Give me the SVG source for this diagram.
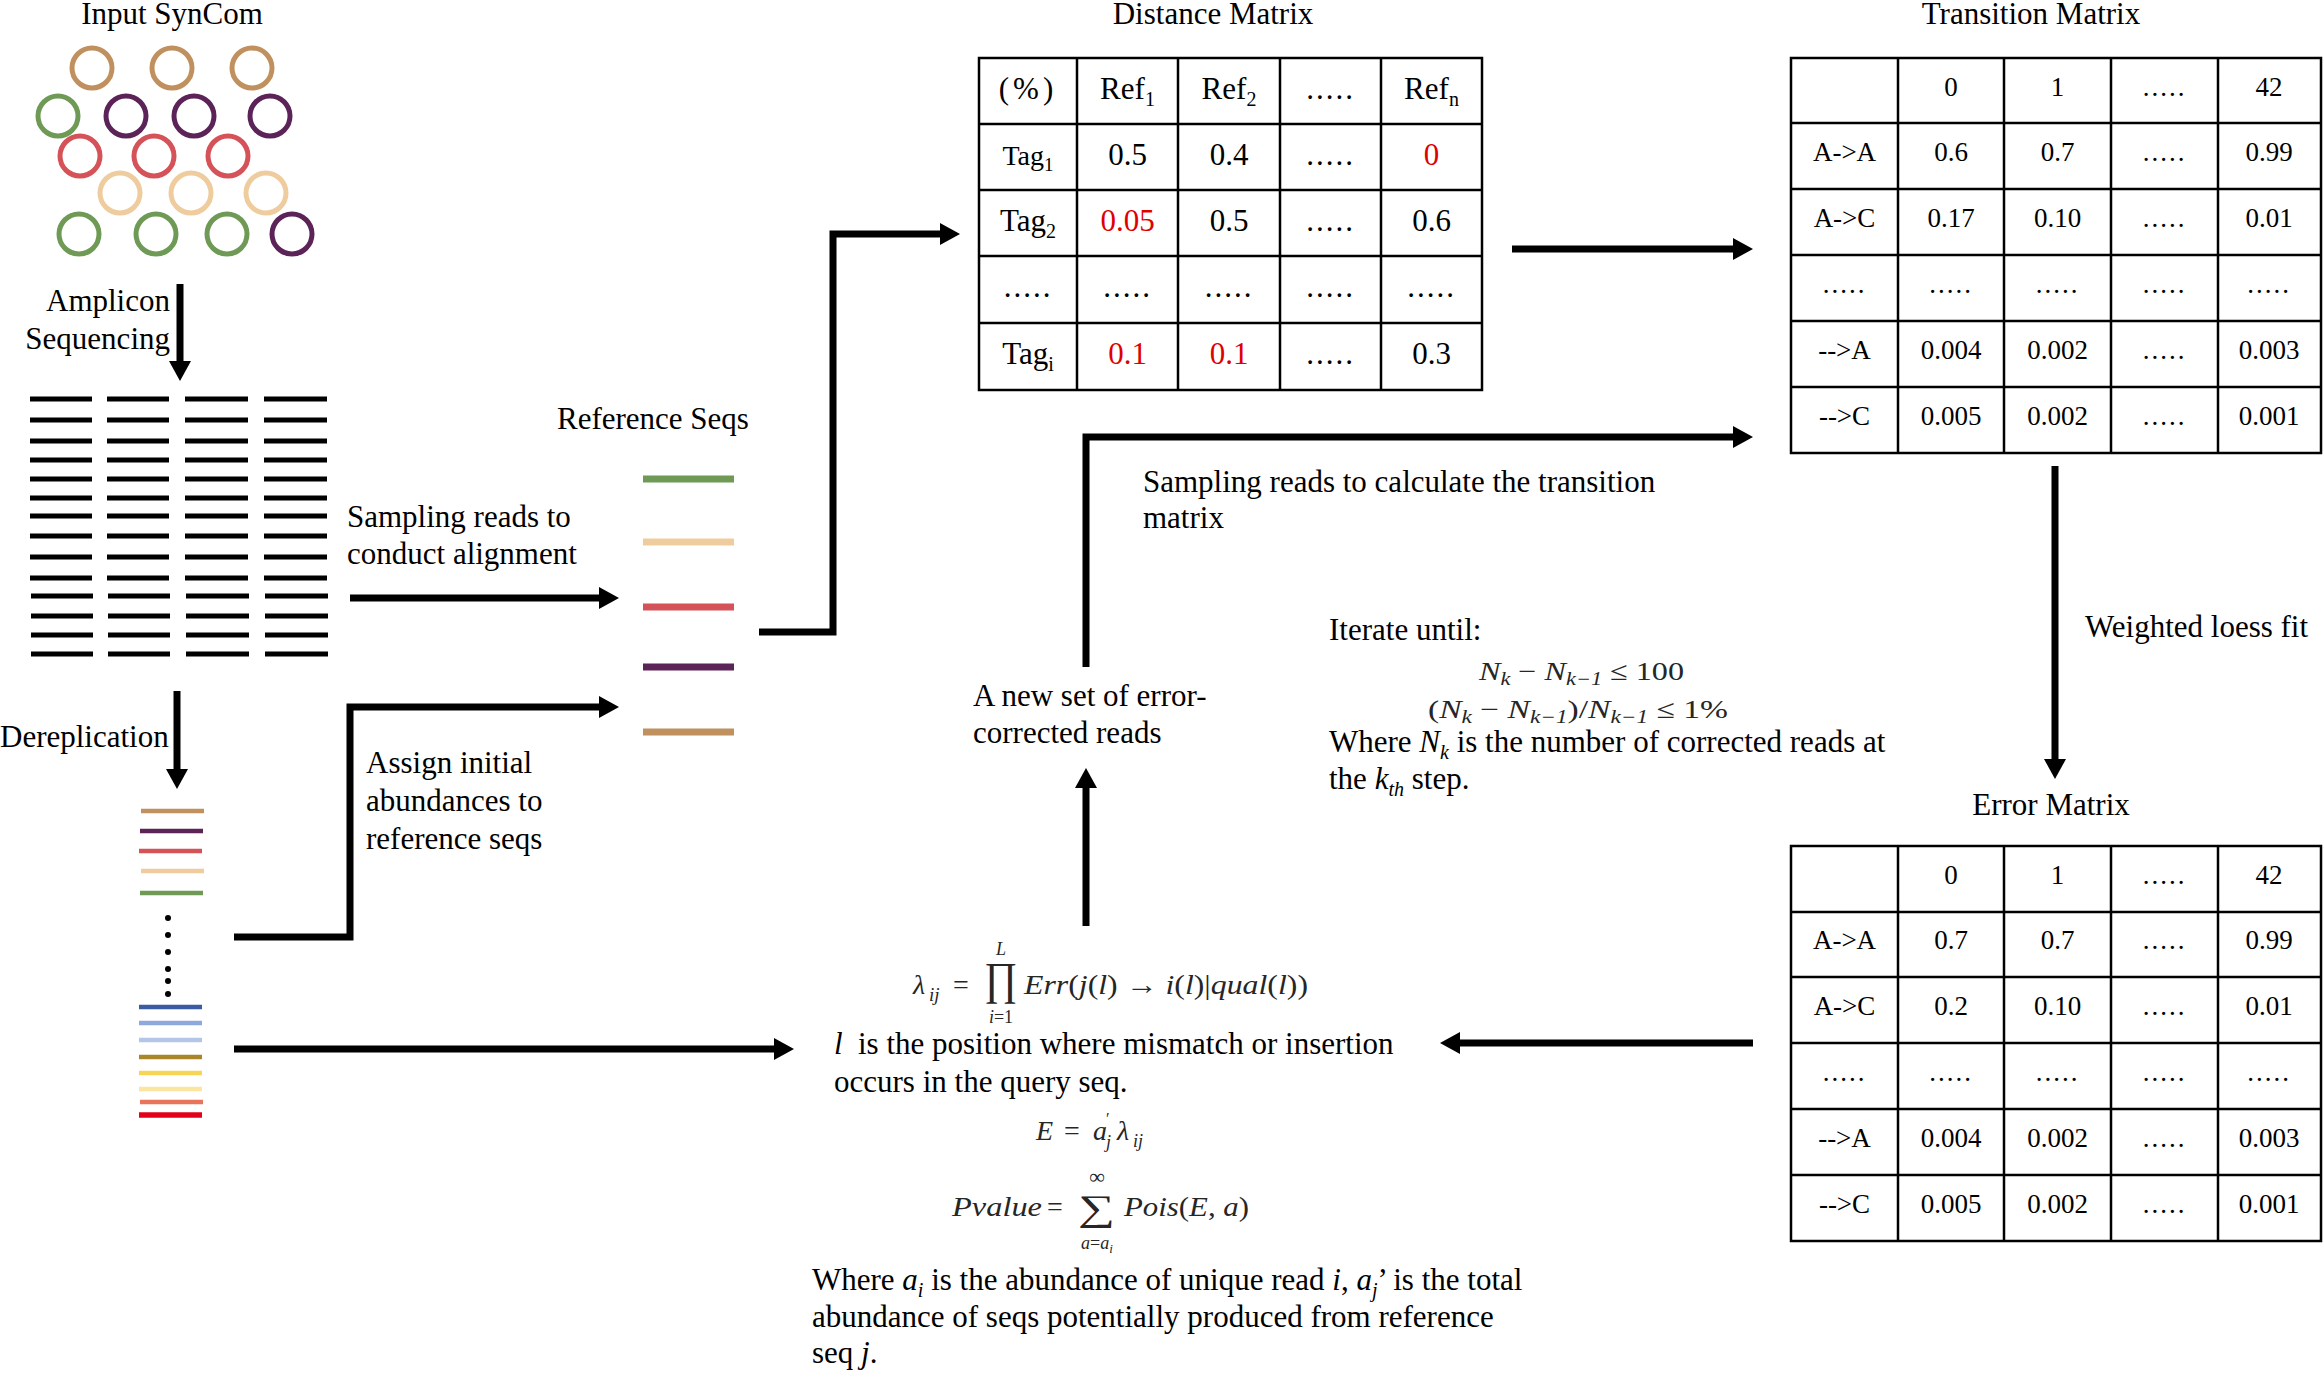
<svg xmlns="http://www.w3.org/2000/svg" width="2323" height="1373" viewBox="0 0 2323 1373">
<style>
text{font-family:"Liberation Serif","Times New Roman",serif;fill:#000}
.b{font-size:31px}
.c{font-size:31px;text-anchor:middle}
.s{font-size:27px;text-anchor:middle}
.m{font-style:italic;fill:#262626;font-size:28px}
.mu{font-style:normal}
.red{fill:#e00000}
.dots{letter-spacing:2px}
.grid{stroke:#000;stroke-width:2.5;fill:none}
.conn{stroke:#000;stroke-width:7;fill:none;stroke-linejoin:miter;stroke-linecap:butt}
.ring{fill:none;stroke-width:5}
.rd{stroke:#000;stroke-width:5}
.sq{stroke-width:7}
.dq{stroke-width:4.5}
</style>
<defs>
<marker id="ah" viewBox="0 0 20 22" markerWidth="20" markerHeight="22" refX="2" refY="11" orient="auto" markerUnits="userSpaceOnUse">
<path d="M0,0 L20,11 L0,22 z" fill="#000"/>
</marker>
</defs>
<rect width="2323" height="1373" fill="#fff"/>

<g id="input-syncom">
<text class="c" x="172" y="24">Input SynCom</text>
<g class="ring">
<circle cx="92" cy="68" r="20" stroke="#c0905f"/>
<circle cx="172" cy="68" r="20" stroke="#c0905f"/>
<circle cx="252" cy="68" r="20" stroke="#c0905f"/>
<circle cx="58" cy="116" r="20" stroke="#6f9a55"/>
<circle cx="126" cy="116" r="20" stroke="#5b2357"/>
<circle cx="194" cy="116" r="20" stroke="#5b2357"/>
<circle cx="270" cy="116" r="20" stroke="#5b2357"/>
<circle cx="80" cy="156" r="20" stroke="#d45258"/>
<circle cx="154" cy="156" r="20" stroke="#d45258"/>
<circle cx="228" cy="156" r="20" stroke="#d45258"/>
<circle cx="120" cy="193" r="20" stroke="#efcc9e"/>
<circle cx="191" cy="193" r="20" stroke="#efcc9e"/>
<circle cx="266" cy="193" r="20" stroke="#efcc9e"/>
<circle cx="79" cy="234" r="20" stroke="#6f9a55"/>
<circle cx="156" cy="234" r="20" stroke="#6f9a55"/>
<circle cx="227" cy="234" r="20" stroke="#6f9a55"/>
<circle cx="292" cy="234" r="20" stroke="#5b2357"/>
</g>
</g>

<g id="reads">
<path class="rd" d="M30,399H92M107,399H169M185,399H248M264,399H327
M30,420H92M107,420H169M185,420H248M264,420H327
M30,441H92M107,441H169M185,441H248M264,441H327
M30,460H92M107,460H169M185,460H248M264,460H327
M30,479H92M107,479H169M185,479H248M264,479H327
M30,498H92M107,498H169M185,498H248M264,498H327
M30,516H92M107,516H169M185,516H248M264,516H327
M30,536H92M107,536H169M185,536H248M264,536H327
M30,557H92M107,557H169M185,557H248M264,557H327
M30,578H92M107,578H169M185,578H248M264,578H327
M31,596H93M108,596H170M186,596H249M265,596H328
M31,616H93M108,616H170M186,616H249M265,616H328
M31,635H93M108,635H170M186,635H249M265,635H328
M31,654H93M108,654H170M186,654H249M265,654H328"/>
</g>

<g id="reference-seqs">
<text class="b" x="557" y="429">Reference Seqs</text>
<g class="sq">
<line x1="643" y1="479" x2="734" y2="479" stroke="#6f9a55"/>
<line x1="643" y1="542" x2="734" y2="542" stroke="#efcc9e"/>
<line x1="643" y1="607" x2="734" y2="607" stroke="#d45258"/>
<line x1="643" y1="667" x2="734" y2="667" stroke="#5b2357"/>
<line x1="643" y1="732" x2="734" y2="732" stroke="#c0905f"/>
</g>
</g>

<g id="dereplicated">
<g class="dq">
<line x1="141" y1="811" x2="204" y2="811" stroke="#c0905f"/>
<line x1="140" y1="831" x2="203" y2="831" stroke="#5b2357"/>
<line x1="139" y1="851" x2="202" y2="851" stroke="#d45258"/>
<line x1="141" y1="871" x2="204" y2="871" stroke="#efcc9e"/>
<line x1="140" y1="893" x2="203" y2="893" stroke="#6f9a55"/>
<line x1="139" y1="1007" x2="202" y2="1007" stroke="#3b5ba5"/>
<line x1="139" y1="1023" x2="202" y2="1023" stroke="#8fa8dc"/>
<line x1="139" y1="1040" x2="202" y2="1040" stroke="#b4c6e7"/>
<line x1="139" y1="1057" x2="202" y2="1057" stroke="#a9862a"/>
<line x1="139" y1="1073" x2="202" y2="1073" stroke="#f6d555"/>
<line x1="139" y1="1089" x2="202" y2="1089" stroke="#fae6a0"/>
<line x1="140" y1="1102" x2="203" y2="1102" stroke="#e8745c"/>
<line x1="139" y1="1115" x2="202" y2="1115" stroke="#e3001b" stroke-width="5.5"/>
</g>
<g fill="#000">
<circle cx="168" cy="918" r="3"/>
<circle cx="168" cy="935" r="3"/>
<circle cx="168" cy="952" r="3"/>
<circle cx="168" cy="969" r="3"/>
<circle cx="168" cy="981" r="3"/>
<circle cx="168" cy="994" r="3"/>
</g>
</g>

<g id="distance-matrix">
<text class="c" x="1213" y="24">Distance Matrix</text>
<rect class="grid" x="979" y="58" width="503" height="332"/>
<path class="grid" d="M1077,58V390M1178,58V390M1280,58V390M1381,58V390M979,124H1482M979,190H1482M979,256H1482M979,323H1482"/>
<text class="c" x="1028" y="99" letter-spacing="4">(%)</text>
<text class="c" x="1127.5" y="99">Ref<tspan font-size="20" dy="7">1</tspan></text>
<text class="c" x="1229" y="99">Ref<tspan font-size="20" dy="7">2</tspan></text>
<text class="c dots" x="1330.5" y="99">.....</text>
<text class="c" x="1431.5" y="99">Ref<tspan font-size="20" dy="7">n</tspan></text>
<text class="c" x="1028" y="165" style="font-size:28px">Tag<tspan font-size="19" dy="6">1</tspan></text>
<text class="c" x="1127.5" y="165">0.5</text>
<text class="c" x="1229" y="165">0.4</text>
<text class="c dots" x="1330.5" y="165">.....</text>
<text class="c red" x="1431.5" y="165">0</text>
<text class="c" x="1028" y="231">Tag<tspan font-size="20" dy="7">2</tspan></text>
<text class="c red" x="1127.5" y="231">0.05</text>
<text class="c" x="1229" y="231">0.5</text>
<text class="c dots" x="1330.5" y="231">.....</text>
<text class="c" x="1431.5" y="231">0.6</text>
<text class="c dots" x="1028" y="297">.....</text>
<text class="c dots" x="1127.5" y="297">.....</text>
<text class="c dots" x="1229" y="297">.....</text>
<text class="c dots" x="1330.5" y="297">.....</text>
<text class="c dots" x="1431.5" y="297">.....</text>
<text class="c" x="1028" y="364">Tag<tspan font-size="20" dy="7">i</tspan></text>
<text class="c red" x="1127.5" y="364">0.1</text>
<text class="c red" x="1229" y="364">0.1</text>
<text class="c dots" x="1330.5" y="364">.....</text>
<text class="c" x="1431.5" y="364">0.3</text>
</g>

<g id="transition-matrix">
<text class="c" x="2031" y="24">Transition Matrix</text>
<rect class="grid" x="1791" y="58" width="530" height="395"/>
<path class="grid" d="M1898,58V453M2004,58V453M2111,58V453M2218,58V453M1791,123H2321M1791,189H2321M1791,255H2321M1791,321H2321M1791,387H2321"/>
<text class="s" x="1951" y="96">0</text>
<text class="s" x="2057.5" y="96">1</text>
<text class="s dots" x="2164.5" y="96">.....</text>
<text class="s" x="2269" y="96">42</text>
<text class="s" x="1844.5" y="161">A-&gt;A</text>
<text class="s" x="1951" y="161">0.6</text>
<text class="s" x="2057.5" y="161">0.7</text>
<text class="s dots" x="2164.5" y="161">.....</text>
<text class="s" x="2269" y="161">0.99</text>
<text class="s" x="1844.5" y="227">A-&gt;C</text>
<text class="s" x="1951" y="227">0.17</text>
<text class="s" x="2057.5" y="227">0.10</text>
<text class="s dots" x="2164.5" y="227">.....</text>
<text class="s" x="2269" y="227">0.01</text>
<text class="s dots" x="1844.5" y="293">.....</text>
<text class="s dots" x="1951" y="293">.....</text>
<text class="s dots" x="2057.5" y="293">.....</text>
<text class="s dots" x="2164.5" y="293">.....</text>
<text class="s dots" x="2269" y="293">.....</text>
<text class="s" x="1844.5" y="359">--&gt;A</text>
<text class="s" x="1951" y="359">0.004</text>
<text class="s" x="2057.5" y="359">0.002</text>
<text class="s dots" x="2164.5" y="359">.....</text>
<text class="s" x="2269" y="359">0.003</text>
<text class="s" x="1844.5" y="425">--&gt;C</text>
<text class="s" x="1951" y="425">0.005</text>
<text class="s" x="2057.5" y="425">0.002</text>
<text class="s dots" x="2164.5" y="425">.....</text>
<text class="s" x="2269" y="425">0.001</text>
</g>

<g id="error-matrix">
<text class="c" x="2051" y="815">Error Matrix</text>
<rect class="grid" x="1791" y="846" width="530" height="395"/>
<path class="grid" d="M1898,846V1241M2004,846V1241M2111,846V1241M2218,846V1241M1791,912H2321M1791,977H2321M1791,1043H2321M1791,1109H2321M1791,1175H2321"/>
<text class="s" x="1951" y="884">0</text>
<text class="s" x="2057.5" y="884">1</text>
<text class="s dots" x="2164.5" y="884">.....</text>
<text class="s" x="2269" y="884">42</text>
<text class="s" x="1844.5" y="949">A-&gt;A</text>
<text class="s" x="1951" y="949">0.7</text>
<text class="s" x="2057.5" y="949">0.7</text>
<text class="s dots" x="2164.5" y="949">.....</text>
<text class="s" x="2269" y="949">0.99</text>
<text class="s" x="1844.5" y="1015">A-&gt;C</text>
<text class="s" x="1951" y="1015">0.2</text>
<text class="s" x="2057.5" y="1015">0.10</text>
<text class="s dots" x="2164.5" y="1015">.....</text>
<text class="s" x="2269" y="1015">0.01</text>
<text class="s dots" x="1844.5" y="1081">.....</text>
<text class="s dots" x="1951" y="1081">.....</text>
<text class="s dots" x="2057.5" y="1081">.....</text>
<text class="s dots" x="2164.5" y="1081">.....</text>
<text class="s dots" x="2269" y="1081">.....</text>
<text class="s" x="1844.5" y="1147">--&gt;A</text>
<text class="s" x="1951" y="1147">0.004</text>
<text class="s" x="2057.5" y="1147">0.002</text>
<text class="s dots" x="2164.5" y="1147">.....</text>
<text class="s" x="2269" y="1147">0.003</text>
<text class="s" x="1844.5" y="1213">--&gt;C</text>
<text class="s" x="1951" y="1213">0.005</text>
<text class="s" x="2057.5" y="1213">0.002</text>
<text class="s dots" x="2164.5" y="1213">.....</text>
<text class="s" x="2269" y="1213">0.001</text>
</g>

<g id="iterate-note">
<text class="b" x="1329" y="640">Iterate until:</text>
<text class="m" x="1479" y="680" style="font-size:26px" textLength="205" lengthAdjust="spacingAndGlyphs">N<tspan font-size="18" dy="5">k</tspan><tspan class="mu" dy="-5"> − </tspan>N<tspan font-size="18" dy="5">k−1</tspan><tspan class="mu" dy="-5"> ≤ 100</tspan></text>
<text class="m" x="1428" y="718" style="font-size:26px" textLength="300" lengthAdjust="spacingAndGlyphs"><tspan class="mu">(</tspan>N<tspan font-size="18" dy="5">k</tspan><tspan class="mu" dy="-5"> − </tspan>N<tspan font-size="18" dy="5">k−1</tspan><tspan class="mu" dy="-5">)/</tspan>N<tspan font-size="18" dy="5">k−1</tspan><tspan class="mu" dy="-5"> ≤ 1%</tspan></text>
<text class="b" x="1329" y="752">Where <tspan font-style="italic">N</tspan><tspan font-style="italic" font-size="20" dy="7">k</tspan><tspan dy="-7"> is the number of corrected reads at</tspan></text>
<text class="b" x="1329" y="789">the <tspan font-style="italic">k</tspan><tspan font-style="italic" font-size="20" dy="7">th</tspan><tspan dy="-7"> step.</tspan></text>
</g>

<g id="likelihood-formula">
<text class="m" x="913" y="994">λ</text>
<text class="m" x="929" y="1001" style="font-size:19px">ij</text>
<text class="m mu" x="953" y="994">=</text>
<text class="m mu" x="984" y="994" style="font-size:46px" textLength="33" lengthAdjust="spacingAndGlyphs">∏</text>
<text class="m" x="1001" y="955" style="font-size:18px" text-anchor="middle">L</text>
<text class="m" x="1001" y="1023" style="font-size:18px" text-anchor="middle">i<tspan class="mu">=1</tspan></text>
<text class="m" x="1024" y="994" textLength="284" lengthAdjust="spacingAndGlyphs">Err<tspan class="mu">(</tspan>j<tspan class="mu">(</tspan>l<tspan class="mu">) → </tspan>i<tspan class="mu">(</tspan>l<tspan class="mu">)|</tspan>qual<tspan class="mu">(</tspan>l<tspan class="mu">))</tspan></text>
<text class="b" x="834" y="1054"><tspan font-style="italic">l</tspan><tspan x="858">is the position where mismatch or insertion</tspan></text>
<text class="b" x="834" y="1092">occurs in the query seq.</text>
<text class="m" x="1036" y="1140">E</text>
<text class="m mu" x="1064" y="1140">=</text>
<text class="m" x="1093" y="1140">a</text>
<text class="m mu" x="1106" y="1124" style="font-size:16px">′</text>
<text class="m" x="1106" y="1148" style="font-size:18px">j</text>
<text class="m" x="1117" y="1140">λ</text>
<text class="m" x="1133" y="1147" style="font-size:18px">ij</text>
<text class="m" x="952" y="1216" textLength="90" lengthAdjust="spacingAndGlyphs">Pvalue</text>
<text class="m mu" x="1047" y="1216">=</text>
<text class="m mu" x="1078" y="1220" style="font-size:36px" textLength="37" lengthAdjust="spacingAndGlyphs">∑</text>
<text class="m mu" x="1097" y="1184" style="font-size:22px" text-anchor="middle">∞</text>
<text class="m" x="1097" y="1249" style="font-size:18px" text-anchor="middle">a<tspan class="mu">=</tspan>a<tspan font-size="13" dy="4">i</tspan></text>
<text class="m" x="1124" y="1216" textLength="125" lengthAdjust="spacingAndGlyphs">Pois<tspan class="mu">(</tspan>E<tspan class="mu">, </tspan>a<tspan class="mu">)</tspan></text>
<text class="b" x="812" y="1290">Where <tspan font-style="italic">a</tspan><tspan font-style="italic" font-size="20" dy="7">i</tspan><tspan dy="-7"> is the abundance of unique read </tspan><tspan font-style="italic">i</tspan>, <tspan font-style="italic">a</tspan><tspan font-style="italic" font-size="20" dy="7">j</tspan><tspan dy="-7">’ is the total</tspan></text>
<text class="b" x="812" y="1327">abundance of seqs potentially produced from reference</text>
<text class="b" x="812" y="1363">seq <tspan font-style="italic">j</tspan>.</text>
</g>

<g id="labels">
<text class="b" x="170" y="311" text-anchor="end">Amplicon</text>
<text class="b" x="170" y="349" text-anchor="end">Sequencing</text>
<text class="b" x="0" y="747">Dereplication</text>
<text class="b" x="347" y="527">Sampling reads to</text>
<text class="b" x="347" y="564">conduct alignment</text>
<text class="b" x="366" y="773">Assign initial</text>
<text class="b" x="366" y="811">abundances to</text>
<text class="b" x="366" y="849">reference seqs</text>
<text class="b" x="973" y="706">A new set of error-</text>
<text class="b" x="973" y="743">corrected reads</text>
<text class="b" x="1143" y="492">Sampling reads to calculate the transition</text>
<text class="b" x="1143" y="528">matrix</text>
<text class="b" x="2085" y="637">Weighted loess fit</text>
</g>

<g id="connectors" class="conn" marker-end="url(#ah)">
<path d="M180,284V363"/>
<path d="M177,691V771"/>
<path d="M350,598H601"/>
<path d="M234,937H350V707H601"/>
<path d="M234,1049H776"/>
<path d="M759,632H833V234H942"/>
<path d="M1512,249H1735"/>
<path d="M1086,926V786"/>
<path d="M1086,667V437H1735"/>
<path d="M2055,466V761"/>
<path d="M1753,1043H1458"/>
</g>
</svg>
